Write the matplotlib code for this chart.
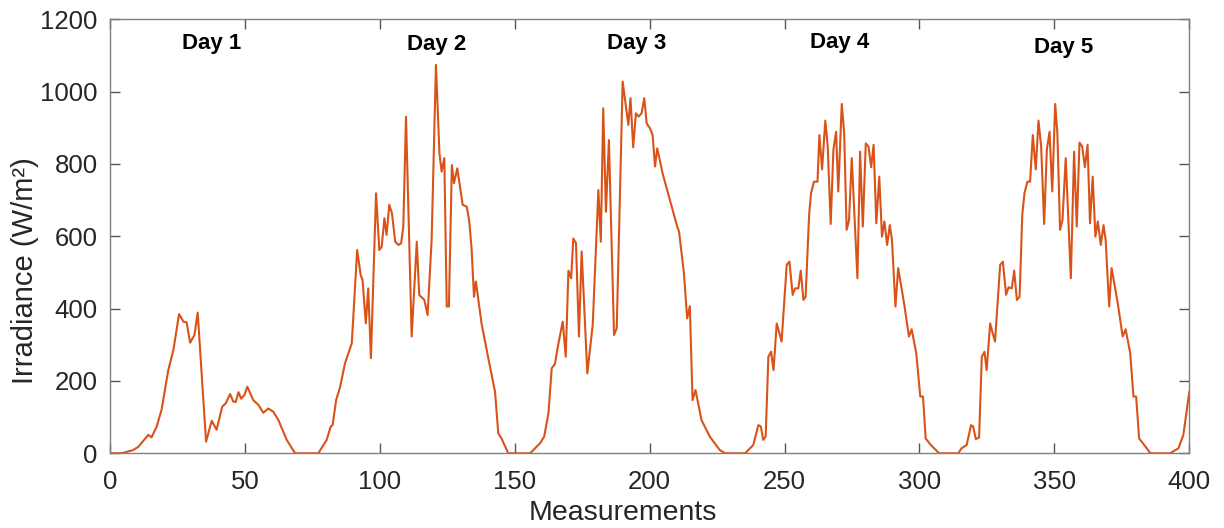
import numpy as np
import matplotlib
matplotlib.use("Agg")
import matplotlib.pyplot as plt

plt.rcParams['font.family'] = ['Liberation Sans', 'DejaVu Sans']

day1_x = [0, 4.3, 8.6, 10.5, 14.2, 15.4, 17.3, 19.1, 21.6, 23.5, 25.6, 27.2, 28.4, 29.7, 31.3, 32.5,
          35.6, 37.7, 39.5, 41.6, 42.9, 44.5, 45.7, 46.6, 47.6, 48.6, 49.8, 50.9, 53.1, 55.0, 56.8,
          58.7, 60.5, 62.4, 65.5, 68.6]
day1_y = [0, 0, 9, 18, 51, 44, 74, 120, 230, 286, 385, 364, 362, 306, 327, 389,
          32, 90, 65, 129, 138, 164, 143, 142, 169, 151, 161, 184, 147, 134, 112,
          124, 115, 92, 37, 0]

day2_x = [77.2, 80.3, 81.8, 82.5, 83.8, 85.3, 87.1, 89.6, 91.6, 92.9, 93.6, 94.8, 95.7, 96.7, 98.6,
          99.8, 100.7, 101.7, 102.5, 103.5, 104.5, 105.7, 106.9, 107.9, 108.7, 109.7, 111.8, 113.7,
          114.6, 116.5, 117.7, 119.2, 120.8, 122.1, 122.9, 123.9, 124.8, 125.6, 126.7, 127.5, 128.7,
          130.7, 132.2, 133.1, 134.0, 134.9, 135.6, 137.7, 140.2, 142.7, 143.9, 145.1, 147.6]
day2_y = [0, 37, 74, 78, 147, 184, 249, 304, 562, 493, 479, 359, 456, 263, 719,
          562, 571, 650, 604, 687, 664, 585, 576, 581, 627, 931, 323, 585,
          438, 424, 382, 590, 1074, 829, 779, 816, 406, 406, 797, 747, 788,
          687, 682, 645, 567, 433, 475, 359, 263, 170, 55, 41, 0]

day3_x = [155.7, 159.4, 160.9, 162.5, 163.7, 164.9, 166.2, 167.8, 168.9, 169.9, 170.9, 171.7, 172.7,
          173.8, 174.8, 176.9, 178.9, 181.0, 181.9, 182.8, 183.8, 184.9, 186.8, 187.8, 190.0, 192.1,
          192.9, 193.9, 194.9, 195.9, 197.0, 198.0, 198.9, 200.1, 201.1, 202.0, 202.8, 204.8, 207.5,
          210.2, 210.9, 212.7, 213.9, 214.9, 215.9, 217.0, 219.2, 222.3, 226.0, 228.0]
day3_y = [0, 28, 46, 111, 235, 247, 304, 364, 267, 505, 484, 594, 581,
          323, 558, 221, 355, 728, 585, 954, 668, 866, 327, 346, 1028, 908,
          982, 846, 940, 931, 940, 982, 912, 899, 880, 793, 843, 774, 700,
          627, 613, 498, 373, 407, 147, 175, 92, 46, 9, 0]

day4_x = [235.4, 238.4, 240.3, 241.2, 242.1, 243.0, 244.0, 245.0, 245.9, 247.1, 248.1, 248.9, 250.8,
          251.8, 253.0, 253.9, 255.1, 256.0, 257.0, 257.8, 259.1, 259.8, 260.9, 262.2, 262.9, 263.9,
          265.1, 266.0, 267.1, 268.1, 269.1, 269.9, 271.2, 272.1, 273.0, 273.9, 274.9, 277.0, 278.0,
          279.0, 280.1, 281.1, 282.1, 283.0, 284.0, 285.1, 286.1, 287.0, 288.0, 289.0, 289.8, 291.1,
          292.1, 294.2, 296.1, 297.1, 298.8, 300.3, 301.3, 302.3, 304.2, 307.3]
day4_y = [0, 23, 78, 74, 37, 46, 267, 281, 230, 359, 332, 309, 521,
          530, 438, 456, 456, 505, 424, 433, 659, 719, 751, 751, 880, 785,
          920, 848, 634, 839, 889, 724, 966, 885, 618, 645, 816, 484, 834,
          627, 857, 848, 791, 853, 636, 765, 599, 641, 576, 631, 590, 406,
          512, 419, 323, 343, 277, 157, 157, 41, 23, 0]

day5_x = [314.4, 315.6, 317.5, 319.1, 319.9, 320.9, 322.1, 323.1, 324.1, 324.9, 326.2, 327.0, 328.0,
          329.9, 330.9, 332.1, 333.0, 334.2, 335.1, 336.1, 337.1, 338.1, 338.9, 340.0, 341.0, 342.0,
          343.1, 344.1, 345.1, 346.2, 347.2, 348.2, 349.2, 350.3, 351.1, 352.1, 353.0, 354.2, 356.1,
          357.3, 358.3, 359.3, 360.3, 361.3, 362.3, 363.2, 364.2, 365.2, 366.1, 367.2, 368.2, 369.0,
          370.3, 371.2, 373.4, 375.3, 376.4, 378.1, 379.3, 380.3, 381.4, 383.3, 385.6]
day5_y = [0, 14, 23, 78, 74, 39, 44, 267, 281, 230, 359, 336, 309,
          521, 530, 438, 459, 456, 505, 424, 433, 659, 719, 751, 751, 880,
          785, 920, 848, 634, 839, 889, 724, 966, 885, 618, 645, 816, 484,
          834, 627, 859, 848, 791, 853, 636, 765, 599, 641, 576, 631, 590,
          406, 512, 419, 323, 343, 277, 157, 157, 41, 23, 0]

tail_x = [392.9, 396.0, 397.8, 400.0]
tail_y = [0, 14, 51, 170]

day_labels = ["Day 1", "Day 2", "Day 3", "Day 4", "Day 5"]
day_label_x = [37.5, 121.0, 195.2, 270.3, 353.3]
day_label_y = [1134, 1131, 1134, 1136, 1123]

x_ticks = [0, 50, 100, 150, 200, 250, 300, 350, 400]
y_ticks = [0, 200, 400, 600, 800, 1000, 1200]

x = np.concatenate([day1_x, day2_x, day3_x, day4_x, day5_x, tail_x])
y = np.concatenate([day1_y, day2_y, day3_y, day4_y, day5_y, tail_y])

fig = plt.figure(figsize=(12.24, 5.28), dpi=100)
ax = fig.add_axes([110/1224, 74.7/528, (1189.3-110)/1224, (453.3-19.3)/528])

ax.plot(x, y, color='#D95319', lw=1.5)

ax.set_xlim(0, 400)
ax.set_ylim(0, 1200)
ax.set_xticks(x_ticks)
ax.set_yticks(y_ticks)

for s in ax.spines.values():
    s.set_color('#808080')
    s.set_linewidth(1.0)

ax.tick_params(axis='both', direction='in', length=7, width=1.0, color='#555555',
               labelcolor='#262626', labelsize=18.5, top=True, right=True)
ax.tick_params(axis='y', pad=9)
ax.tick_params(axis='x', pad=12)

ax.set_xlabel('Measurements', fontsize=20.5, color='#262626')
ax.set_ylabel('Irradiance (W/m²)', fontsize=21, color='#262626')
ax.xaxis.set_label_coords(0.475, -0.108)
ax.yaxis.set_label_coords(-0.066, 0.42)

for lab, lx, ly in zip(day_labels, day_label_x, day_label_y):
    ax.text(lx, ly, lab, fontsize=16, fontweight='bold', ha='center', va='center', color='black')

fig.savefig('out.png', dpi=100, facecolor='white')
